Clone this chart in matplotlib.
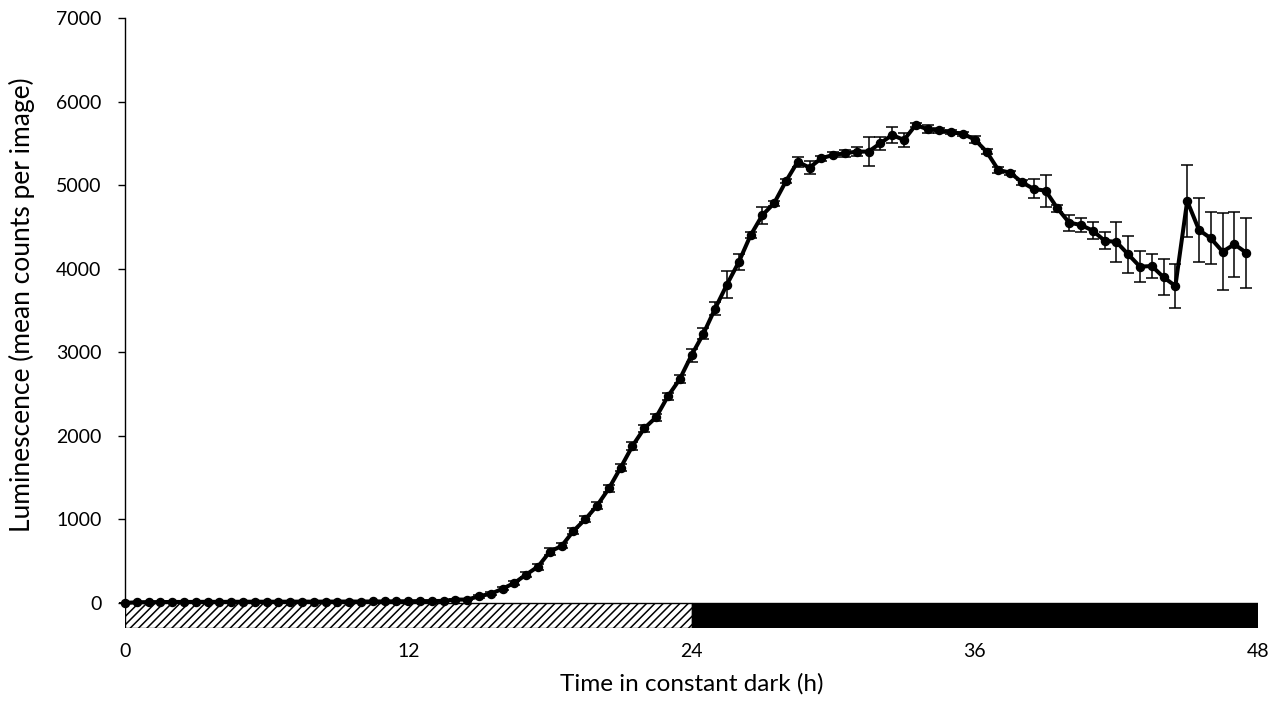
import matplotlib
matplotlib.use("Agg")
import matplotlib.pyplot as plt
from matplotlib.patches import Rectangle
import numpy as np

plt.rcParams['font.family'] = ['Lato', 'DejaVu Sans']
plt.rcParams['hatch.linewidth'] = 1.1

# time points (h), every 0.5 h from 0 to 47.5
hours = np.arange(0, 48, 0.5)

luminescence = [
    0, 8, 10, 10, 12, 12, 12, 14, 12, 14,
    14, 15, 14, 15, 15, 16, 15, 16, 16, 17,
    16, 18, 18, 20, 20, 22, 22, 25, 40, 40,
    80, 110, 170, 240, 340, 435, 614, 682, 862, 1001,
    1165, 1370, 1620, 1879, 2090, 2222, 2473, 2677, 2964, 3219,
    3522, 3810, 4077, 4398, 4640, 4783, 5046, 5280, 5209, 5321,
    5361, 5381, 5401, 5401, 5501, 5600, 5540, 5720, 5668, 5655,
    5632, 5615, 5545, 5401, 5181, 5149, 5034, 4954, 4934, 4723,
    4551, 4523, 4455, 4335, 4320, 4172, 4024, 4032, 3897, 3793,
    4810, 4463, 4364, 4204, 4292, 4192,
]

errors = [
    5, 5, 5, 5, 5, 5, 5, 5, 5, 5,
    5, 5, 5, 5, 5, 5, 5, 5, 5, 5,
    5, 5, 5, 5, 5, 5, 5, 5, 10, 10,
    15, 20, 20, 25, 30, 35, 40, 30, 40, 35,
    40, 40, 45, 50, 40, 40, 45, 45, 80, 66,
    80, 160, 96, 36, 100, 30, 25, 60, 74, 30,
    30, 40, 50, 178, 76, 100, 78, 25, 50, 30,
    25, 25, 40, 30, 30, 25, 30, 114, 193, 40,
    96, 80, 104, 100, 240, 220, 188, 140, 216, 260,
    428, 379, 313, 458, 389, 420,
]

x_ticks = [0, 12, 24, 36, 48]
y_ticks = [0, 1000, 2000, 3000, 4000, 5000, 6000, 7000]

# light/dark bar: (start, end, style)
bar_segments = [(0, 24, 'hatched'), (24, 48, 'dark')]

W, H = 1284, 713
fig = plt.figure(figsize=(W / 100, H / 100), dpi=100)
ax = fig.add_axes([125 / W, 1 - 628 / H, (1258 - 125) / W, (628 - 18) / H])

ax.set_xlim(0, 48)
ax.set_ylim(-300, 7000)

bar_bottom, bar_top = -300, 0
for start, end, style in bar_segments:
    if style == 'hatched':
        r = Rectangle((start, bar_bottom), end - start, bar_top - bar_bottom,
                      facecolor='white', edgecolor='black', hatch='////',
                      linewidth=1.0, zorder=1)
    else:
        r = Rectangle((start, bar_bottom), end - start, bar_top - bar_bottom,
                      facecolor='black', edgecolor='black', linewidth=1.0, zorder=1)
    ax.add_patch(r)

ax.errorbar(hours, luminescence, yerr=errors, color='black', linewidth=2.9,
            marker='o', markersize=5.8, ecolor='black', elinewidth=1.1,
            capsize=4.5, capthick=1.1, zorder=3, clip_on=False)

for s in ['top', 'right', 'bottom']:
    ax.spines[s].set_visible(False)
ax.spines['left'].set_bounds(0, 7000)
ax.spines['left'].set_linewidth(1.0)

ax.set_xticks(x_ticks)
ax.set_xticklabels([str(t) for t in x_ticks])
ax.set_yticks(y_ticks)
ax.set_yticklabels([str(t) for t in y_ticks])
ax.tick_params(axis='x', length=0, pad=11, labelsize=14)
ax.tick_params(axis='y', length=5, width=1.0, direction='out', pad=12, labelsize=14)

ax.set_xlabel('Time in constant dark (h)', fontsize=17.5, labelpad=9)
ax.set_ylabel('Luminescence (mean counts per image)', fontsize=19)
ax.yaxis.set_label_coords(-0.079, 0.53)

fig.savefig('out.png', dpi=100)
